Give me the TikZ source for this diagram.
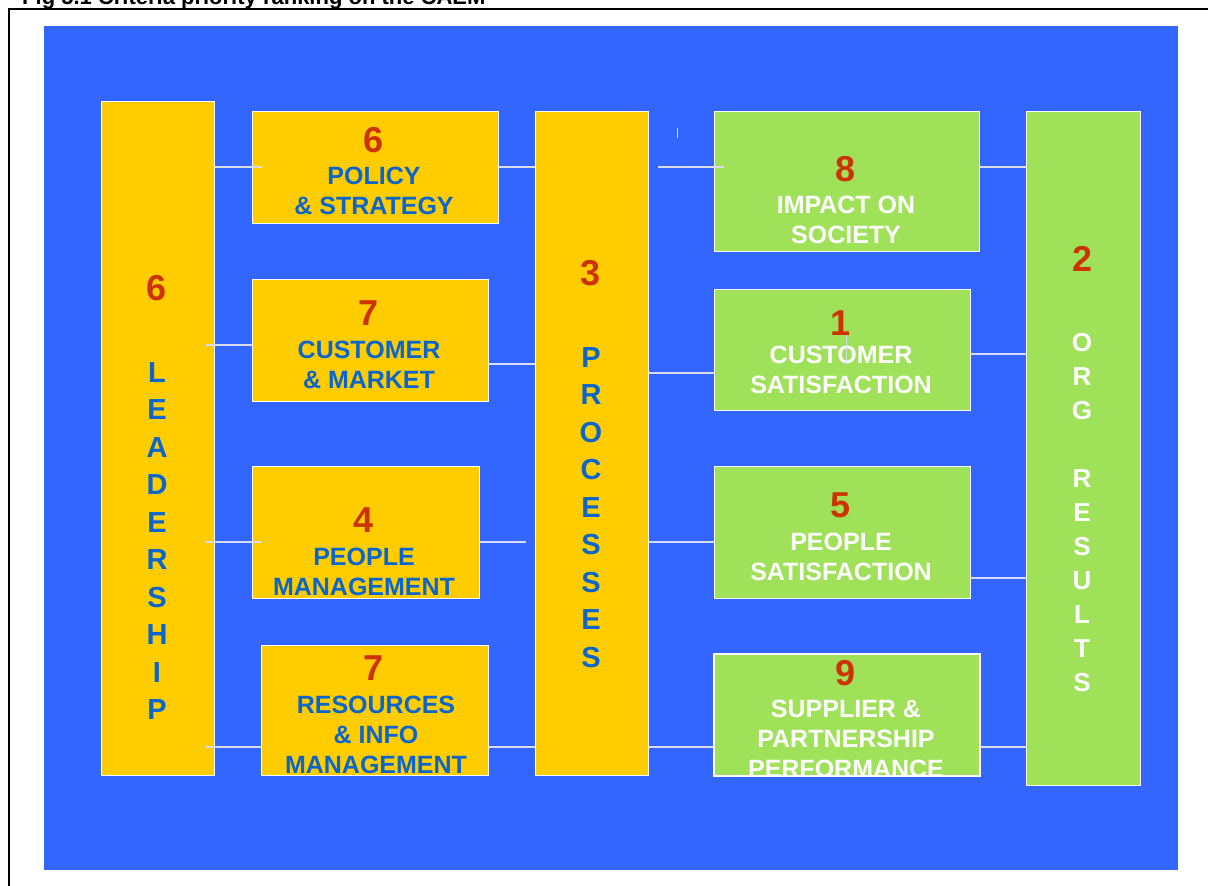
\documentclass[tikz,border=0pt]{standalone}
\usepackage{fontspec}
\setmainfont{Liberation Sans}
\usetikzlibrary{calc}
\definecolor{bgblue}{HTML}{3366FF}
\definecolor{boxyellow}{HTML}{FFCC00}
\definecolor{boxgreen}{HTML}{A0E15A}
\definecolor{numred}{HTML}{CC3300}
\definecolor{lblblue}{HTML}{0A66CC}
\definecolor{linegray}{HTML}{D8DCEE}
\begin{document}
\begin{tikzpicture}[x=1pt,y=-1pt,
  panel/.style={draw=white, line width=1.3pt, anchor=north west, inner sep=0pt},
  ybox/.style={panel, fill=boxyellow},
  gbox/.style={panel, fill=boxgreen},
  num/.style={font=\fontsize{36}{36}\selectfont\bfseries, text=numred, anchor=base, inner sep=0pt},
  lbl/.style={font=\fontsize{25}{30}\selectfont\bfseries, text=lblblue, anchor=north, inner sep=0pt, align=center},
  wlbl/.style={lbl, text=white},
  vlbl/.style={font=\fontsize{29}{37.5}\selectfont\bfseries, text=lblblue, anchor=north, inner sep=0pt, align=center},
  vwlbl/.style={font=\fontsize{26}{34}\selectfont\bfseries, text=white, anchor=north, inner sep=0pt, align=center},
  conn/.style={draw=linegray, line width=1.3pt}
]
\useasboundingbox (0,0) rectangle (1208,886);

% caption above the frame
\node[anchor=base west, inner sep=0pt, font=\fontsize{22}{22}\selectfont\bfseries] (caption) at (22,4.5)
  {Fig 5.1 Criteria priority ranking on the CAEM};

% frame and blue panel
\draw[line width=1.8pt] (1212,9) -- (9,9) -- (9,890);
\fill[bgblue] (44,26) rectangle (1178,870);

% enabler boxes
\node[ybox, minimum width=113pt, minimum height=674pt] (lead) at (101,101) {};
\node[ybox, minimum width=246pt, minimum height=112pt] (pol)  at (252,111) {};
\node[ybox, minimum width=236pt, minimum height=122pt] (cm)   at (252,279) {};
\node[ybox, minimum width=227pt, minimum height=132pt] (pm)   at (252,466) {};
\node[ybox, minimum width=227pt, minimum height=130pt] (res)  at (261,645) {};
\node[ybox, minimum width=113pt, minimum height=664pt] (proc) at (535,111) {};

% results boxes
\node[gbox, minimum width=265pt, minimum height=140pt] (imp) at (714,111) {};
\node[gbox, minimum width=256pt, minimum height=121pt] (cs)  at (714,289) {};
\node[gbox, minimum width=256pt, minimum height=132pt] (ps)  at (714,466) {};
\node[gbox, minimum width=265pt, minimum height=121pt] (sup) at (714,654) {};
\node[gbox, minimum width=114pt, minimum height=674pt] (org) at (1026,111) {};

% box texts
\node[num] (leadn) at (157,300) {6};
\node[vlbl] (leadt) at (157,362) {L\\E\\A\\D\\E\\R\\S\\H\\I\\P};

\node[num] (poln) at (374,152) {6};
\node[lbl] (polt) at (374,166.5) {POLICY\\\& STRATEGY};

\node[num] (cmn) at (369,325) {7};
\node[lbl] (cmt) at (369,340.5) {CUSTOMER\\\& MARKET};

\node[num] (pmn) at (364,532) {4};
\node[lbl] (pmt) at (364,547.5) {PEOPLE\\MANAGEMENT};

\node[num] (resn) at (374,680) {7};
\node[lbl] (rest) at (376,695.5) {RESOURCES\\\& INFO\\MANAGEMENT};

\node[num] (procn) at (591,285) {3};
\node[vlbl] (proct) at (591,347) {P\\R\\O\\C\\E\\S\\S\\E\\S};

\node[num] (impn) at (846,181) {8};
\node[wlbl] (impt) at (846,195.5) {IMPACT ON\\SOCIETY};

\node[num] (csn) at (841,335) {1};
\node[wlbl] (cst) at (841,345.5) {CUSTOMER\\SATISFACTION};

\node[num] (psn) at (841,517) {5};
\node[wlbl] (pst) at (841,532.5) {PEOPLE\\SATISFACTION};

\node[num] (supn) at (846,685) {9};
\begin{scope}
  \clip (sup.north west) rectangle (sup.south east);
  \node[wlbl] (supt) at (846,699.5) {SUPPLIER \&\\PARTNERSHIP\\PERFORMANCE};
\end{scope}
\draw[white, line width=1.3pt] (sup.north west) rectangle (sup.south east);

\node[num] (orgn) at (1082,271) {2};
\node[vwlbl] (orgt) at (1082,333) {O\\R\\G\\[34pt]R\\E\\S\\U\\L\\T\\S};

% row heights of the connectors
\coordinate (ra) at (0,167);
\coordinate (rb) at (0,345);
\coordinate (rc) at (0,364);
\coordinate (rd) at (0,373);
\coordinate (re) at (0,354);
\coordinate (rf) at (0,542);
\coordinate (rg) at (0,578);
\coordinate (rh) at (0,747);

% connectors
\draw[conn] (lead.east |- ra) -- ($(pol.west |- ra)+(10,0)$);
\draw[conn] (pol.east |- ra) -- (proc.west |- ra);
\draw[conn] ($(proc.east |- ra)+(9,0)$) -- ($(imp.west |- ra)+(10,0)$);
\draw[conn] (imp.east |- ra) -- (org.west |- ra);

\draw[conn] ($(lead.east |- rb)+(-9,0)$) -- (cm.west |- rb);
\draw[conn] (cm.east |- rc) -- (proc.west |- rc);
\draw[conn] (proc.east |- rd) -- (cs.west |- rd);
\draw[conn] (cs.east |- re) -- (org.west |- re);

\draw[conn] ($(lead.east |- rf)+(-9,0)$) -- ($(pm.west |- rf)+(10,0)$);
\draw[conn] (pm.east |- rf) -- ($(proc.west |- rf)+(-9,0)$);
\draw[conn] (proc.east |- rf) -- (ps.west |- rf);
\draw[conn] (ps.east |- rg) -- (org.west |- rg);

\draw[conn] ($(lead.east |- rh)+(-9,0)$) -- (res.west |- rh);
\draw[conn] (res.east |- rh) -- (proc.west |- rh);
\draw[conn] (proc.east |- rh) -- (sup.west |- rh);
\draw[conn] (sup.east |- rh) -- (org.west |- rh);

% short stray marks
\draw[conn, line width=1pt] (677,128) -- (677,138);
\draw[conn, line width=1pt] (846,335) -- (846,365);
\end{tikzpicture}
\end{document}
